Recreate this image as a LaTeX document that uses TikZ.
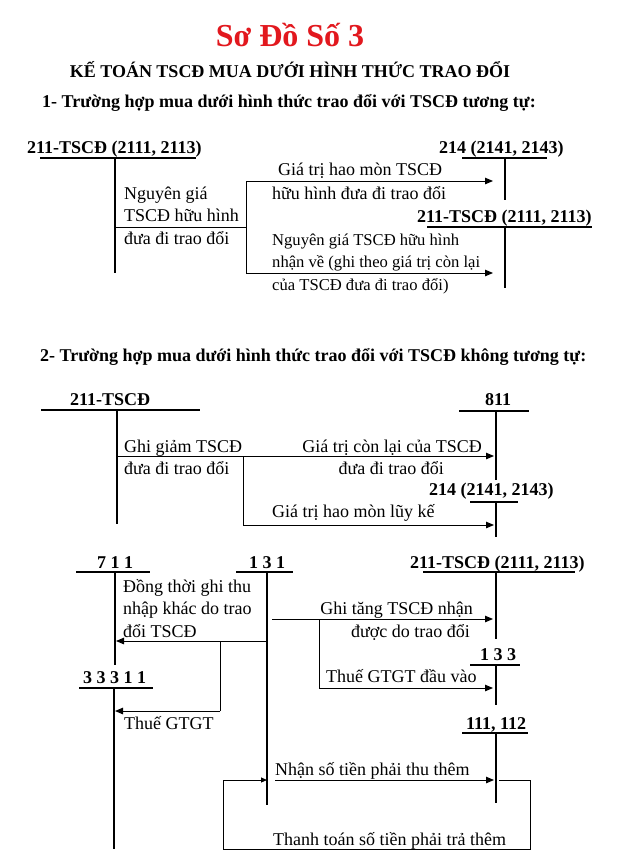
\documentclass[tikz,border=0pt]{standalone}
\usepackage{fontspec}
\setmainfont{Liberation Serif}
\usetikzlibrary{arrows.meta}
\definecolor{titlered}{RGB}{226,24,30}
\begin{document}
\begin{tikzpicture}[x=1pt,y=-1pt,
  txt/.style={inner sep=0pt,anchor=base west,font=\fontsize{18}{22}\selectfont},
  txts/.style={inner sep=0pt,anchor=base west,font=\fontsize{16.6}{20}\selectfont},
  txtr/.style={txt,anchor=base east},
  acc/.style={inner sep=0pt,anchor=base west,font=\fontsize{18}{22}\selectfont\bfseries},
  heavy/.style={line width=2.6pt},
  medium/.style={line width=1.4pt},
  light/.style={line width=1pt},
  arr/.style={line width=1pt,-{Triangle[length=8pt,width=6.5pt]}}]
\fill[white] (0,0) rectangle (639,860);
\useasboundingbox (0,0) rectangle (639,860);

% titles
\node[inner sep=0pt,anchor=base,font=\fontsize{32}{36}\selectfont\bfseries,text=titlered] (title) at (290,46) {Sơ Đồ Số 3};
\node[acc,anchor=base] (sub) at (290,77) {KẾ TOÁN TSCĐ MUA DƯỚI HÌNH THỨC TRAO ĐỔI};
\node[acc] (h1) at (42,107) {1- Trường hợp mua dưới hình thức trao đổi với TSCĐ tương tự:};
\node[acc] (h2) at (40,361) {2- Trường hợp mua dưới hình thức trao đổi với TSCĐ không tương tự:};

% ================= Section 1 =================
\node[acc] (A1) at (27,153) {211-TSCĐ (2111, 2113)};
\coordinate (a1L) at (40,158); \coordinate (a1R) at (196,158);
\coordinate (a1T) at (115,158); \coordinate (a1B) at (115,273);
\draw[heavy] (a1L) -- (a1R); \draw[heavy] (a1T) -- (a1B);
\node[txt] (t11) at (124,199) {Nguyên giá};
\node[txt] (t12) at (124,221) {TSCĐ hữu hình};
\node[txt] (t13) at (124,244) {đưa đi trao đổi};
\coordinate (a1o) at (115,227); \coordinate (s1) at (246,227);
\coordinate (s1t) at (246,181); \coordinate (s1b) at (246,273);
\draw[light] (a1o) -- (s1); \draw[light] (s1t) -- (s1b);

\node[acc] (B1) at (439,153) {214 (2141, 2143)};
\coordinate (b1L) at (462,158); \coordinate (b1R) at (547,158);
\coordinate (b1T) at (505,158); \coordinate (b1B) at (505,200);
\draw[medium] (b1L) -- (b1R); \draw[medium] (b1T) -- (b1B);
\coordinate (b1in) at (493,181);
\draw[arr] (s1t) -- (b1in);
\node[txt] (t14) at (278,175) {Giá trị hao mòn TSCĐ};
\node[txt] (t15) at (272,199) {hữu hình đưa đi trao đổi};

\node[acc] (C1) at (417,222) {211-TSCĐ (2111, 2113)};
\coordinate (c1L) at (427,227); \coordinate (c1R) at (592,227);
\coordinate (c1T) at (505,227); \coordinate (c1B) at (505,288);
\draw[heavy] (c1L) -- (c1R); \draw[heavy] (c1T) -- (c1B);
\coordinate (c1in) at (493,273);
\draw[arr] (s1b) -- (c1in);
\node[txts] (t16) at (272,245) {Nguyên giá TSCĐ hữu hình};
\node[txts] (t17) at (272,267) {nhận về (ghi theo giá trị còn lại};
\node[txts] (t18) at (272,290) {của TSCĐ đưa đi trao đổi)};

% ================= Section 2 =================
\node[acc] (A2) at (70,405) {211-TSCĐ};
\coordinate (a2L) at (41,410); \coordinate (a2R) at (200,410);
\coordinate (a2T) at (117,410); \coordinate (a2B) at (117,524);
\draw[heavy] (a2L) -- (a2R); \draw[heavy] (a2T) -- (a2B);
\node[txt] (t21) at (124,452) {Ghi giảm TSCĐ};
\node[txt] (t22) at (124,474) {đưa đi trao đổi};

\node[acc] (B2) at (485,405) {811};
\coordinate (b2L) at (459,411); \coordinate (b2R) at (529,411);
\coordinate (b2T) at (496,411); \coordinate (b2B) at (496,480);
\draw[medium] (b2L) -- (b2R); \draw[medium] (b2T) -- (b2B);
\coordinate (a2o) at (117,456); \coordinate (b2in) at (494,456);
\draw[arr] (a2o) -- (b2in);
\node[txtr] (t23) at (482,452) {Giá trị còn lại của TSCĐ};
\node[txtr] (t24) at (444,474) {đưa đi trao đổi};

\coordinate (s2t) at (243,456); \coordinate (s2b) at (243,525);
\draw[light] (s2t) -- (s2b);
\node[acc] (C2) at (429,495) {214 (2141, 2143)};
\coordinate (c2L) at (470,502); \coordinate (c2R) at (518,502);
\coordinate (c2T) at (496,502); \coordinate (c2B) at (496,537);
\draw[medium] (c2L) -- (c2R); \draw[medium] (c2T) -- (c2B);
\coordinate (c2in) at (494,525);
\draw[arr] (s2b) -- (c2in);
\node[txt] (t25) at (272,517) {Giá trị hao mòn lũy kế};

% ================= Section 3 =================
\node[acc] (D711) at (97,568) {7 1 1};
\coordinate (dL) at (76,572); \coordinate (dR) at (150,572);
\coordinate (dT) at (115,572); \coordinate (dB) at (115,665);
\draw[medium] (dL) -- (dR); \draw[medium] (dT) -- (dB);

\node[acc] (E131) at (249,568) {1 3 1};
\coordinate (eL) at (236,572); \coordinate (eR) at (293,572);
\coordinate (eT) at (267,572); \coordinate (eB) at (267,805);
\draw[medium] (eL) -- (eR); \draw[medium] (eT) -- (eB);

\node[txt] (t31) at (123,592) {Đồng thời ghi thu};
\node[txt] (t32) at (123,614) {nhập khác do trao};
\node[txt] (t33) at (123,637) {đổi TSCĐ};
\coordinate (e1) at (267,641); \coordinate (d1) at (116,641);
\draw[arr] (e1) -- (d1);

\node[acc] (F333) at (83,683) {3 3 3 1 1};
\coordinate (fL) at (79,688); \coordinate (fR) at (153,688);
\coordinate (fT) at (114,688); \coordinate (fB) at (114,849);
\draw[medium] (fL) -- (fR); \draw[medium] (fT) -- (fB);
\coordinate (br1) at (220,641); \coordinate (br2) at (220,711); \coordinate (f1) at (115,711);
\draw[light] (br1) -- (br2);
\draw[arr] (br2) -- (f1);
\node[txt] (t34) at (124,729) {Thuế GTGT};

\node[acc] (G211) at (410,568) {211-TSCĐ (2111, 2113)};
\coordinate (gL) at (423,572); \coordinate (gR) at (575,572);
\coordinate (gT) at (496,572); \coordinate (gB) at (496,639);
\draw[heavy] (gL) -- (gR); \draw[heavy] (gT) -- (gB);
\coordinate (e2) at (272,619); \coordinate (g1) at (493,619);
\draw[arr] (e2) -- (g1);
\node[txtr] (t35) at (473,614) {Ghi tăng TSCĐ nhận};
\node[txtr] (t36) at (470,637) {được do trao đổi};

\node[acc] (H133) at (480,660) {1 3 3};
\coordinate (hL) at (470,665); \coordinate (hR) at (520,665);
\coordinate (hT) at (496,665); \coordinate (hB) at (496,705);
\draw[medium] (hL) -- (hR); \draw[medium] (hT) -- (hB);
\coordinate (s3t) at (319,619); \coordinate (s3b) at (319,688); \coordinate (h1) at (493,688);
\draw[light] (s3t) -- (s3b);
\draw[arr] (s3b) -- (h1);
\node[txt] (t37) at (326,682) {Thuế GTGT đầu vào};

\node[acc] (K111) at (466,729) {111, 112};
\coordinate (kL) at (462,733); \coordinate (kR) at (528,733);
\coordinate (kT) at (496,733); \coordinate (kB) at (496,803);
\draw[medium] (kL) -- (kR); \draw[medium] (kT) -- (kB);
\coordinate (e3) at (275,780); \coordinate (k1) at (494,780);
\draw[arr] (e3) -- (k1);
\node[txt] (t38) at (275,775) {Nhận số tiền phải thu thêm};

\coordinate (k2) at (499,780); \coordinate (p1) at (530,780);
\coordinate (p2) at (530,849); \coordinate (p3) at (223,849);
\coordinate (p4) at (223,780); \coordinate (e4) at (267,780);
\draw[light,-{Triangle[length=6pt,width=5pt]}] (k2) -- (p1) -- (p2) -- (p3) -- (p4) -- (e4);
\node[txt] (t39) at (273,845) {Thanh toán số tiền phải trả thêm};
\end{tikzpicture}
\end{document}
